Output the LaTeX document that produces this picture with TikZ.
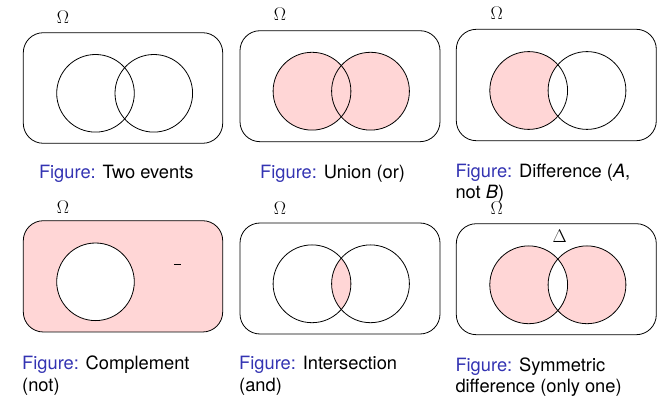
\documentclass[tikz,border=0pt]{standalone}
\usepackage{fontspec}
\newfontfamily\capfont{TeX Gyre Heros}
\definecolor{vpink}{RGB}{255,214,214}
\definecolor{beamblue}{rgb}{0.2,0.2,0.7}
\tikzset{
  omegabox/.style={draw, line width=0.8pt, rounded corners=20pt},
  ring/.style={draw, line width=0.8pt},
  captxt/.style={font=\capfont\fontsize{18.3pt}{21.5pt}\selectfont, inner sep=0pt, anchor=base west},
  symtxt/.style={font=\rmfamily\fontsize{18.3pt}{20pt}\selectfont, inner sep=0pt}
}
\newcommand{\fig}{\textcolor{beamblue}{Figure:}}
\begin{document}
\begin{tikzpicture}[x=1pt, y=-1pt]
\useasboundingbox (0,0) rectangle (662,398);
% ---------- Panel 1: two events
\draw[omegabox] (23.3,32.7) rectangle (222.7,143.3);
\draw[ring] (95.5,93.3) circle (38.8pt);
\draw[ring] (153.8,93.3) circle (38.8pt);
\node[symtxt] (o1) at (63,17) {Ω};
\node[captxt] (c1) at (38.8,178.8) {\fig{} Two events};
% ---------- Panel 2: union
\draw[omegabox] (240,30.7) rectangle (440,141.7);
\fill[vpink] (312,91.2) circle (38.9pt) (370.5,91.2) circle (38.9pt);
\draw[ring] (312,91.2) circle (38.9pt);
\draw[ring] (370.5,91.2) circle (38.9pt);
\node[symtxt] (o2) at (280,14.5) {Ω};
\node[captxt] (c2) at (260,178.5) {\fig{} Union (or)};
% ---------- Panel 3: difference
\draw[omegabox] (456.3,29.3) rectangle (656.3,140.7);
\fill[vpink] (528.7,90.5) circle (38.9pt);
\fill[white] (587,90.5) circle (38.9pt);
\draw[ring] (528.7,90.5) circle (38.9pt);
\draw[ring] (587,90.5) circle (38.9pt);
\node[symtxt] (o3) at (496.7,13.5) {Ω};
\node[captxt] (c3a) at (455.3,177.5) {\fig{} Difference (\textit{A},};
\node[captxt] (c3b) at (455.3,198.8) {not \textit{B})};
% ---------- Panel 4: complement
\fill[vpink, rounded corners=20pt] (23.3,220.7) rectangle (222.7,332);
\fill[white] (95.5,281.8) circle (38.8pt);
\draw[omegabox] (23.3,220.7) rectangle (222.7,332);
\draw[ring] (95.5,281.8) circle (38.8pt);
\draw[line width=0.9pt] (173.8,264.3) -- (181.3,264.3);
\node[symtxt] (o4) at (63,207.5) {Ω};
\node[captxt] (c4a) at (22,369.5) {\fig{} Complement};
\node[captxt] (c4b) at (22,391.5) {(not)};
% ---------- Panel 5: intersection
\draw[omegabox] (240,223) rectangle (440,334);
\begin{scope}
  \clip (312,283.8) circle (38.9pt);
  \fill[vpink] (370.5,283.8) circle (38.9pt);
\end{scope}
\draw[ring] (312,283.8) circle (38.9pt);
\draw[ring] (370.5,283.8) circle (38.9pt);
\node[symtxt] (o5) at (280,208.5) {Ω};
\node[captxt] (c5a) at (239,370) {\fig{} Intersection};
\node[captxt] (c5b) at (239,391.8) {(and)};
% ---------- Panel 6: symmetric difference
\draw[omegabox] (456.3,223.7) rectangle (656.3,334.7);
\fill[vpink, even odd rule] (528.7,284.8) circle (38.9pt) (587,284.8) circle (38.9pt);
\draw[ring] (528.7,284.8) circle (38.9pt);
\draw[ring] (587,284.8) circle (38.9pt);
\node[symtxt] (o6) at (496.7,208.5) {Ω};
\node[symtxt] (d6) at (559.8,236.3) {Δ};
\node[captxt] (c6a) at (455.3,371) {\fig{} Symmetric};
\node[captxt] (c6b) at (455.3,392.7) {difference (only one)};
\end{tikzpicture}
\end{document}
